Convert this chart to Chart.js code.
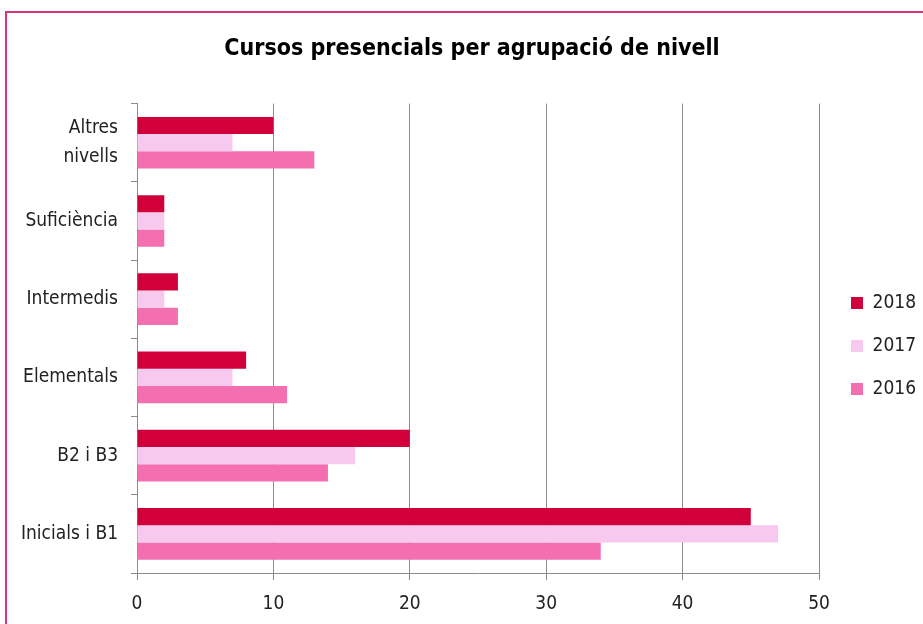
<!DOCTYPE html>
<html>
<head>
<meta charset="utf-8">
<script src="https://cdn.jsdelivr.net/npm/chart.js@4.4.1/dist/chart.umd.min.js"></script>
<style>
    html, body { margin: 0; padding: 0; background: #fff; overflow: hidden; }
    #frame {
        position: absolute; left: 5px; top: 11px;
        width: 930px; height: 620px;
        border-left: 2px solid #d6347a; border-top: 2px solid #d6347a;
    }
</style>
</head>
<body>
<div id="frame"><canvas id="chart" width="930" height="620"></canvas></div>
<script>
/* ==================== DATA ==================== */
const categories = [['Altres', 'nivells'], 'Suficiència', 'Intermedis', 'Elementals', 'B2 i B3', 'Inicials i B1'];
const seriesNames = ['2018', '2017', '2016'];
const values2018 = [10, 2, 3, 8, 20, 45];
const values2017 = [7, 2, 2, 7, 16, 47];
const values2016 = [13, 2, 3, 11, 14, 34];
const xTicks = [0, 10, 20, 30, 40, 50];

const colors = ['#d1003b', '#f7c9ef', '#f46fb0'];
const FONT = "'Liberation Sans Narrow', 'DejaVu Sans Condensed', 'Liberation Sans', sans-serif";
const gridColor = '#8c8c8c';

// nudge legend and title to where the reference has them
const layoutNudge = {
    id: 'layoutNudge',
    afterLayout(chart) {
        const lg = chart.legend;
        if (lg) {
            lg.left += 8; lg.right += 8;
            lg.top += 23; lg.bottom += 23;
        }
        const t = chart.titleBlock;
        if (t) { t.left += 19; }
    }
};

new Chart(document.getElementById('chart'), {
    type: 'bar',
    data: {
        labels: categories,
        datasets: [values2018, values2017, values2016].map((d, i) => ({
            label: seriesNames[i],
            data: d,
            backgroundColor: colors[i],
            borderWidth: 0,
            categoryPercentage: 0.66,
            barPercentage: 1,
        })),
    },
    options: {
        indexAxis: 'y',
        responsive: false,
        animation: false,
        layout: { padding: { left: 0, right: 19, top: 0, bottom: 0 } },
        plugins: {
            title: {
                display: true,
                text: 'Cursos presencials per agrupació de nivell',
                color: '#000',
                font: { family: FONT, size: 23, weight: 'bold' },
                padding: { top: 22, bottom: 41 },
            },
            legend: {
                position: 'right',
                labels: {
                    color: '#222',
                    font: { family: FONT, size: 19 },
                    boxWidth: 12, boxHeight: 12,
                    padding: 24,
                },
            },
            tooltip: { enabled: false },
        },
        scales: {
            x: {
                min: 0, max: 50,
                afterBuildTicks: (s) => { s.ticks = xTicks.map((v) => ({ value: v })); },
                afterFit: (s) => { s.height = 60; },
                grid: { color: gridColor, tickLength: 7, drawTicks: true },
                border: { display: true, color: gridColor },
                ticks: { color: '#222', font: { family: FONT, size: 19 }, padding: 13 },
            },
            y: {
                afterFit: (s) => { s.width = 130; },
                grid: { color: gridColor, drawOnChartArea: false, tickLength: 6, offset: true },
                border: { display: true, color: gridColor },
                ticks: { color: '#222', font: { family: FONT, size: 19, lineHeight: 1.5 }, padding: 13 },
            },
        },
    },
    plugins: [layoutNudge],
});
</script>
</body>
</html>
